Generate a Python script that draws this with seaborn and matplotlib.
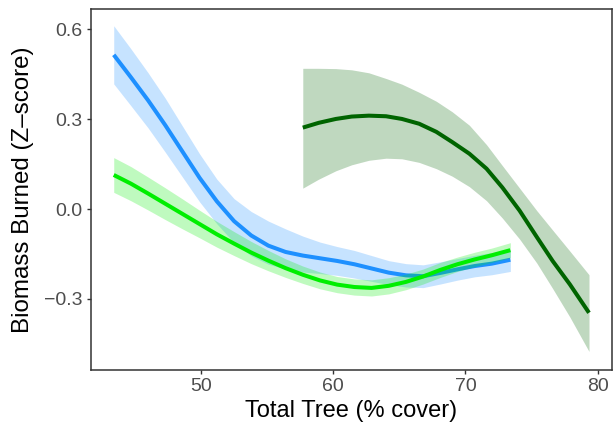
import numpy as np
import pandas as pd
import matplotlib
matplotlib.use("Agg")
import matplotlib.pyplot as plt
import seaborn as sns

# Loess fits of biomass burned against total tree cover, with 95% bands
shrub_x = [43.4, 44.7, 46.0, 47.3, 48.6, 49.9, 51.2, 52.5, 53.8, 55.1, 56.4, 57.7,
           59.0, 60.3, 61.6, 62.9, 64.2, 65.5, 66.8, 68.1, 69.4, 70.7, 72.0, 73.4]

blue_fit = [0.515, 0.440, 0.363, 0.280, 0.192, 0.104, 0.026, -0.040, -0.088, -0.122,
            -0.143, -0.155, -0.164, -0.173, -0.184, -0.198, -0.212, -0.221, -0.224,
            -0.213, -0.201, -0.190, -0.182, -0.169]
blue_hi = [0.612, 0.535, 0.455, 0.370, 0.277, 0.184, 0.100, 0.035, -0.008, -0.040,
           -0.066, -0.090, -0.110, -0.125, -0.138, -0.155, -0.172, -0.182, -0.186,
           -0.176, -0.165, -0.154, -0.145, -0.136]
blue_lo = [0.418, 0.345, 0.271, 0.190, 0.107, 0.024, -0.049, -0.112, -0.156, -0.184,
           -0.200, -0.210, -0.215, -0.221, -0.230, -0.241, -0.252, -0.260, -0.262,
           -0.250, -0.237, -0.226, -0.219, -0.208]

lime_fit = [0.114, 0.085, 0.052, 0.018, -0.016, -0.050, -0.084, -0.115, -0.145, -0.172,
            -0.197, -0.219, -0.238, -0.252, -0.260, -0.263, -0.256, -0.243, -0.225,
            -0.203, -0.184, -0.168, -0.154, -0.137]
lime_hi = [0.172, 0.142, 0.107, 0.071, 0.034, -0.004, -0.041, -0.075, -0.108, -0.138,
           -0.166, -0.190, -0.210, -0.225, -0.233, -0.236, -0.229, -0.217, -0.200,
           -0.178, -0.160, -0.144, -0.130, -0.112]
lime_lo = [0.056, 0.028, -0.003, -0.035, -0.066, -0.096, -0.127, -0.155, -0.182, -0.206,
           -0.228, -0.248, -0.266, -0.279, -0.287, -0.290, -0.283, -0.269, -0.250,
           -0.228, -0.208, -0.192, -0.178, -0.162]

forest_x = [57.7, 58.9, 60.2, 61.4, 62.7, 64.0, 65.2, 66.5, 67.8, 69.0, 70.3, 71.6,
            72.8, 74.1, 75.4, 76.6, 77.9, 79.35]
forest_fit = [0.272, 0.288, 0.301, 0.309, 0.312, 0.310, 0.301, 0.285, 0.258, 0.224,
              0.185, 0.135, 0.072, -0.005, -0.093, -0.173, -0.251, -0.346]
forest_hi = [0.470, 0.470, 0.469, 0.465, 0.455, 0.436, 0.417, 0.390, 0.360, 0.325,
             0.280, 0.215, 0.145, 0.070, -0.005, -0.070, -0.140, -0.219]
forest_lo = [0.070, 0.100, 0.128, 0.148, 0.163, 0.170, 0.168, 0.156, 0.135, 0.110,
             0.075, 0.028, -0.030, -0.100, -0.180, -0.265, -0.360, -0.475]

x_ticks = [50, 60, 70, 80]
y_ticks = [-0.3, 0.0, 0.3, 0.6]
y_tick_labels = ["\u22120.3", "0.0", "0.3", "0.6"]

groups = ["blue", "lime", "forest"]
palette = {"blue": "#1E90FF", "lime": "#00EE00", "forest": "#006400"}

frames = []
for name, xs, fit, lo, hi in [
    ("blue", shrub_x, blue_fit, blue_lo, blue_hi),
    ("lime", shrub_x, lime_fit, lime_lo, lime_hi),
    ("forest", forest_x, forest_fit, forest_lo, forest_hi),
]:
    frames.append(pd.DataFrame({"x": xs, "y": fit, "lo": lo, "hi": hi, "group": name}))
df = pd.concat(frames, ignore_index=True)

sns.set_style("ticks")
plt.rcParams["font.family"] = ["Liberation Sans", "DejaVu Sans"]

fig = plt.figure(figsize=(6.13, 4.37), dpi=100)
ax = fig.add_axes([91 / 613, 1 - 370 / 437, (612 - 91) / 613, (370 - 9) / 437])

for i, name in enumerate(groups):
    sub = df[df["group"] == name]
    ax.fill_between(sub["x"], sub["lo"], sub["hi"], color=palette[name],
                    alpha=0.25, linewidth=0, zorder=2 + 2 * i)
    sns.lineplot(data=sub, x="x", y="y", color=palette[name], linewidth=2.9,
                 estimator=None, sort=False, ax=ax, zorder=3 + 2 * i,
                 solid_joinstyle="round", solid_capstyle="butt")

ax.set_xlim(41.68, 81.09)
ax.set_ylim(-0.537, 0.668)
ax.set_xticks(x_ticks)
ax.set_xticklabels([str(t) for t in x_ticks])
ax.set_yticks(y_ticks)
ax.set_yticklabels(y_tick_labels)

for side in ["left", "right", "top", "bottom"]:
    ax.spines[side].set_visible(True)
    ax.spines[side].set_color("#333333")
    ax.spines[side].set_linewidth(1.1)

ax.tick_params(axis="both", direction="out", length=3.0, width=1.0, color="#333333",
               labelcolor="#4D4D4D", labelsize=14, pad=3.0)

ax.set_xlabel("Total Tree (% cover)", fontsize=17, color="black", labelpad=3)
ax.set_ylabel("Biomass Burned (Z\u2013score)", fontsize=17.4, color="black", labelpad=7)

fig.savefig("out.png", dpi=100)
